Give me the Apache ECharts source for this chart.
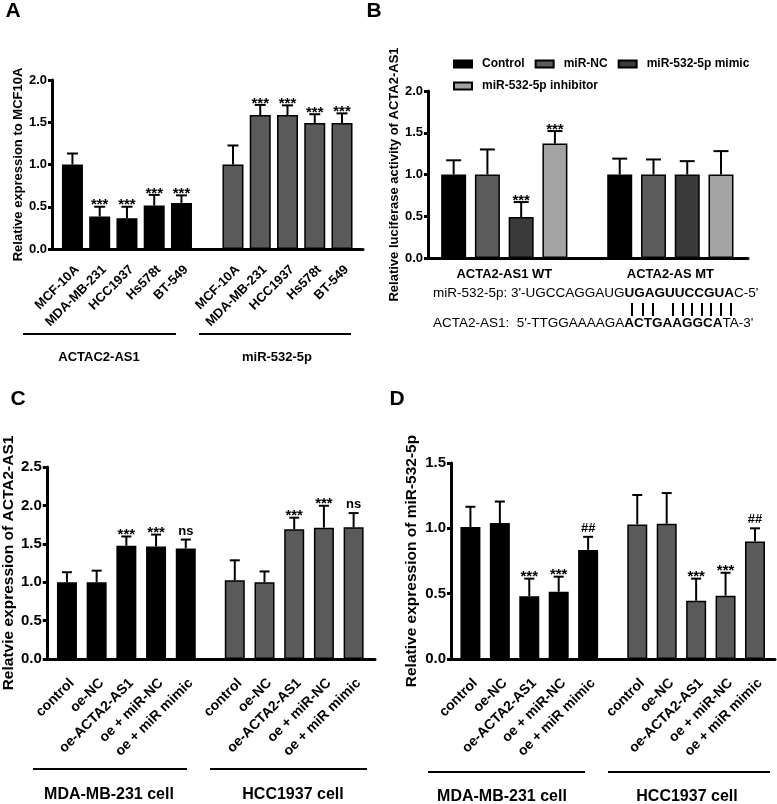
<!DOCTYPE html>
<html><head><meta charset="utf-8">
<script src="https://cdn.jsdelivr.net/npm/echarts@6/dist/echarts.min.js"></script>
<style>html,body{margin:0;padding:0;background:#fff}#c{width:777px;height:804px}</style>
</head><body><div id="c"></div>
<script>
const FONT = 'Liberation Sans, Arial, Helvetica, sans-serif';

// ---------- Panel A ----------
const cellLinesA = ['MCF-10A', 'MDA-MB-231', 'HCC1937', 'Hs578t', 'BT-549'];
const groupNamesA = ['ACTAC2-AS1', 'miR-532-5p'];
const actac2Mean = [1.00, 0.385, 0.365, 0.515, 0.545];
const actac2Sd   = [0.13, 0.115, 0.135, 0.125, 0.09];
const mir532Mean = [1.00, 1.585, 1.585, 1.49, 1.49];
const mir532Sd   = [0.225, 0.12, 0.115, 0.105, 0.115];
const sigA = ['', '***', '***', '***', '***'];
const yTicksA = [0, 0.5, 1.0, 1.5, 2.0];

// ---------- Panel B ----------
const constructsB = ['ACTA2-AS1 WT', 'ACTA2-AS MT'];
const treatmentsB = ['Control', 'miR-NC', 'miR-532-5p mimic', 'miR-532-5p inhibitor'];
const controlB     = [1.00, 1.00];
const controlBSd   = [0.17, 0.19];
const mirNcB       = [1.00, 1.00];
const mirNcBSd     = [0.30, 0.18];
const mimicB       = [0.49, 1.00];
const mimicBSd     = [0.18, 0.16];
const inhibitorB   = [1.37, 1.00];
const inhibitorBSd = [0.15, 0.28];
const sigControlB = ['', ''], sigNcB = ['', ''], sigMimicB = ['***', ''], sigInhB = ['***', ''];
const yTicksB = [0, 0.5, 1.0, 1.5, 2.0];
const seqMir = ["miR-532-5p: 3'-UGCCAGGAUG", 'UGAGUUCCGUA', "C-5'"];
const seqLnc = ["ACTA2-AS1:  5'-TTGGAAAAGA", 'ACTGAAGGCA', "TA-3'"];

// ---------- Panel C ----------
const treatCD = ['control', 'oe-NC', 'oe-ACTA2-AS1', 'oe + miR-NC', 'oe + miR mimic'];
const cellGroupsCD = ['MDA-MB-231 cell', 'HCC1937 cell'];
const mdaC   = [1.00, 1.00, 1.475, 1.465, 1.44];
const mdaCSd = [0.13, 0.15, 0.12, 0.155, 0.115];
const hccC   = [1.025, 1.00, 1.69, 1.71, 1.715];
const hccCSd = [0.26, 0.14, 0.15, 0.285, 0.185];
const sigC = ['', '', '***', '***', 'ns'];
const yTicksC = [0, 0.5, 1.0, 1.5, 2.0, 2.5];

// ---------- Panel D ----------
const mdaD   = [1.01, 1.04, 0.48, 0.515, 0.835];
const mdaDSd = [0.155, 0.165, 0.135, 0.115, 0.10];
const hccD   = [1.03, 1.035, 0.445, 0.485, 0.90];
const hccDSd = [0.225, 0.235, 0.17, 0.175, 0.10];
const sigD = ['', '', '***', '***', '##'];
const yTicksD = [0, 0.5, 1.0, 1.5];

// ---------- layout constants ----------
const BLACK = '#000000', GRAY = '#5a5a5a';
const B_COLORS = ['#000000', '#5c5c5c', '#3a3a3a', '#a3a3a3'];
const GAP_A = 0.89, GAP_C = 0.65, GAP_D = 0.67, B_STEP = 4.92;

const posOf = (n, gap) => (g, i) => g * (n + gap) + i;

function xAxisValue(gi, labels, positions, min, max, fs, rotate, margin) {
  return {
    type: 'value', gridIndex: gi, min, max,
    axisLine: { show: true, onZero: false, lineStyle: { color: '#000', width: 3 } },
    axisTick: { show: false }, splitLine: { show: false },
    axisLabel: {
      customValues: positions, rotate, margin,
      verticalAlign: rotate ? 'top' : undefined,
      fontFamily: FONT, fontWeight: 'bold', fontSize: fs, color: '#000',
      formatter: (v) => {
        for (let k = 0; k < positions.length; k++) if (Math.abs(positions[k] - v) < 1e-6) return labels[k];
        return '';
      }
    }
  };
}
function yAxisCfg(gi, ticks, name, gap, fs, nfs) {
  return {
    type: 'value', gridIndex: gi, min: ticks[0], max: ticks[ticks.length - 1], interval: ticks[1] - ticks[0],
    name, nameLocation: 'middle', nameGap: gap,
    nameTextStyle: { fontFamily: FONT, fontWeight: 'bold', fontSize: nfs, color: '#000' },
    axisLine: { show: true, onZero: false, lineStyle: { color: '#000', width: 3 } },
    axisTick: { show: true, length: 4, lineStyle: { color: '#000', width: 3 } },
    splitLine: { show: false },
    axisLabel: { fontFamily: FONT, fontWeight: 'bold', fontSize: fs, color: '#000', margin: 5, formatter: v => v.toFixed(1) }
  };
}
function errSeries(gi, data, sig, cap, starFont, otherFont) {
  return {
    type: 'custom', xAxisIndex: gi, yAxisIndex: gi, z: 5, silent: true, clip: false,
    data, encode: { x: 0, y: 1 },
    renderItem(params, api) {
      const x = api.value(0), m = api.value(1), s = api.value(2);
      const a = api.coord([x, m]), b = api.coord([x, m + s]);
      const t = sig[params.dataIndex];
      const ch = [
        { type: 'line', shape: { x1: a[0], y1: a[1], x2: b[0], y2: b[1] }, style: { stroke: '#000', lineWidth: 2 } },
        { type: 'line', shape: { x1: b[0] - cap, y1: b[1], x2: b[0] + cap, y2: b[1] }, style: { stroke: '#000', lineWidth: 2 } }
      ];
      if (t) {
        const star = t[0] === '*';
        ch.push({ type: 'text', x: b[0], y: b[1] + (star ? 6 : -2),
          style: { text: t, align: 'center', verticalAlign: 'bottom', font: star ? starFont : otherFont, fill: '#000' } });
      }
      return { type: 'group', children: ch };
    }
  };
}
function barSeries(gi, data, colors, width, name) {
  return {
    type: 'bar', name, xAxisIndex: gi, yAxisIndex: gi, barWidth: width, barGap: '-100%',
    data: data.map((d, k) => ({ value: d, itemStyle: { color: colors[k] } })),
    itemStyle: { borderColor: '#000', borderWidth: 1.5 }
  };
}

// ---------- build panel A ----------
const pA = posOf(cellLinesA.length, GAP_A);
const posA = [], labA = [], barA = [], colA = [], errA = [], sigAllA = [];
[[actac2Mean, actac2Sd, BLACK], [mir532Mean, mir532Sd, GRAY]].forEach(([m, s, c], g) => {
  m.forEach((v, i) => {
    posA.push(pA(g, i)); labA.push(cellLinesA[i]);
    barA.push([pA(g, i), v]); colA.push(c);
    errA.push([pA(g, i), v, s[i]]); sigAllA.push(sigA[i]);
  });
});
// ---------- build panel C / D ----------
function buildCD(gap, g1, g1s, g2, g2s, sig) {
  const p = posOf(treatCD.length, gap);
  const out = { pos: [], lab: [], bar: [], col: [], err: [], sig: [] };
  [[g1, g1s, BLACK], [g2, g2s, GRAY]].forEach(([m, s, c], g) => {
    m.forEach((v, i) => {
      out.pos.push(p(g, i)); out.lab.push(treatCD[i]);
      out.bar.push([p(g, i), v]); out.col.push(c);
      out.err.push([p(g, i), v, s[i]]); out.sig.push(sig[i]);
    });
  });
  return out;
}
const C = buildCD(GAP_C, mdaC, mdaCSd, hccC, hccCSd, sigC);
const D = buildCD(GAP_D, mdaD, mdaDSd, hccD, hccDSd, sigD);

// ---------- build panel B ----------
const bMeans = [controlB, mirNcB, mimicB, inhibitorB];
const bSds = [controlBSd, mirNcBSd, mimicBSd, inhibitorBSd];
const bSigs = [sigControlB, sigNcB, sigMimicB, sigInhB];
const posB = constructsB.map((_, g) => g * B_STEP + (treatmentsB.length - 1) / 2);
const bSeries = [];
treatmentsB.forEach((name, k) => {
  const data = bMeans[k].map((v, g) => [g * B_STEP + k, v]);
  bSeries.push({
    type: 'bar', name, xAxisIndex: 1, yAxisIndex: 1, barWidth: 25, barGap: '-100%',
    data, itemStyle: { color: B_COLORS[k], borderColor: '#000', borderWidth: 1.5 }
  });
  bSeries.push(errSeries(1, bMeans[k].map((v, g) => [g * B_STEP + k, v, bSds[k][g]]), bSigs[k], 7.5, 'bold 15px ' + FONT, 'bold 12px ' + FONT));
});

const T = (text, x, y, font, align) => ({ type: 'text', x, y, style: { text, font, fill: '#000', align: align || 'center', verticalAlign: 'middle' } });
const L = (x1, x2, y) => ({ type: 'line', shape: { x1, y1: y, x2, y2: y }, style: { stroke: '#000', lineWidth: 2 } });

// pairing bars
const pipeX = [632, 643, 653, 673, 683, 692, 702, 711, 721, 731];

const option = {
  animation: false,
  backgroundColor: '#fff',
  grid: [
    { left: 52, top: 80, width: 311, height: 169 },
    { left: 428, top: 91, width: 320, height: 167 },
    { left: 43, top: 467, width: 332, height: 192 },
    { left: 451, top: 463, width: 324, height: 196 }
  ],
  xAxis: [
    xAxisValue(0, labA, posA, -0.75, 10.66, 13, 45, 14),
    xAxisValue(1, constructsB, posB, -0.76, 8.72, 13, 0, 10),
    xAxisValue(2, C.lab, C.pos, -0.68, 10.37, 14, 45, 17),
    xAxisValue(3, D.lab, D.pos, -0.66, 10.35, 14, 45, 17)
  ],
  yAxis: [
    yAxisCfg(0, yTicksA, 'Relative expression to MCF10A', 27, 13, 13),
    yAxisCfg(1, yTicksB, 'Relative luciferase activity of ACTA2-AS1', 20, 13, 13),
    yAxisCfg(2, yTicksC, 'Relatvie expression of ACTA2-AS1', 28, 15, 15.5),
    yAxisCfg(3, yTicksD, 'Relative expression of miR-532-5p', 31, 15, 15.5)
  ],
  legend: {
    data: treatmentsB, left: 448, top: 53, width: 300, itemWidth: 18, itemHeight: 7, itemGap: 10,
    icon: 'rect',
    textStyle: { fontFamily: FONT, fontWeight: 'bold', fontSize: 12, color: '#000', padding: [0, 0, 0, 5] }
  },
  series: [
    barSeries(0, barA, colA, 21),
    errSeries(0, errA, sigAllA, 5.5, 'bold 15px ' + FONT, 'bold 12px ' + FONT),
    ...bSeries,
    barSeries(2, C.bar, C.col, 20),
    errSeries(2, C.err, C.sig, 5, 'bold 15px ' + FONT, 'bold 13px ' + FONT),
    barSeries(3, D.bar, D.col, 20),
    errSeries(3, D.err, D.sig, 5, 'bold 15px ' + FONT, 'bold 13px ' + FONT)
  ],
  graphic: [
    T('A', 13, 11, 'bold 21px ' + FONT),
    T('B', 374, 11, 'bold 21px ' + FONT),
    T('C', 18, 399, 'bold 21px Liberation Sans Narrow, ' + FONT),
    T('D', 397, 399, 'bold 21px Liberation Sans Narrow, ' + FONT),
    // panel A groups
    L(23, 176, 334), L(199, 351, 334),
    T(groupNamesA[0], 99, 357, 'bold 13px ' + FONT), T(groupNamesA[1], 277, 357, 'bold 13px ' + FONT),
    // panel C groups
    L(33, 187, 769), L(210, 367, 769),
    T(cellGroupsCD[0], 109, 795, 'bold 16px ' + FONT), T(cellGroupsCD[1], 293, 795, 'bold 16px ' + FONT),
    // panel D groups
    L(428, 585, 772), L(608, 770, 772),
    T(cellGroupsCD[0], 502, 797, 'bold 16px ' + FONT), T(cellGroupsCD[1], 687, 797, 'bold 16px ' + FONT),
    // sequences
    { type: 'text', x: 433, y: 293, style: { text: '{n|' + seqMir[0] + '}{b|' + seqMir[1] + '}{n|' + seqMir[2] + '}', verticalAlign: 'middle',
      rich: { n: { font: '13.5px ' + FONT, fill: '#000' }, b: { font: 'bold 13.5px ' + FONT, fill: '#000' } } } },
    { type: 'text', x: 433, y: 323, style: { text: '{n|' + seqLnc[0] + '}{b|' + seqLnc[1] + '}{n|' + seqLnc[2] + '}', verticalAlign: 'middle',
      rich: { n: { font: '13.5px ' + FONT, fill: '#000' }, b: { font: 'bold 13.5px ' + FONT, fill: '#000' } } } },
    ...pipeX.map(x => ({ type: 'line', shape: { x1: x, y1: 303, x2: x, y2: 316 }, style: { stroke: '#000', lineWidth: 2 } }))
  ]
};
const chart = echarts.init(document.getElementById('c'), null, { renderer: 'canvas' });
chart.setOption(option);
</script></body></html>
